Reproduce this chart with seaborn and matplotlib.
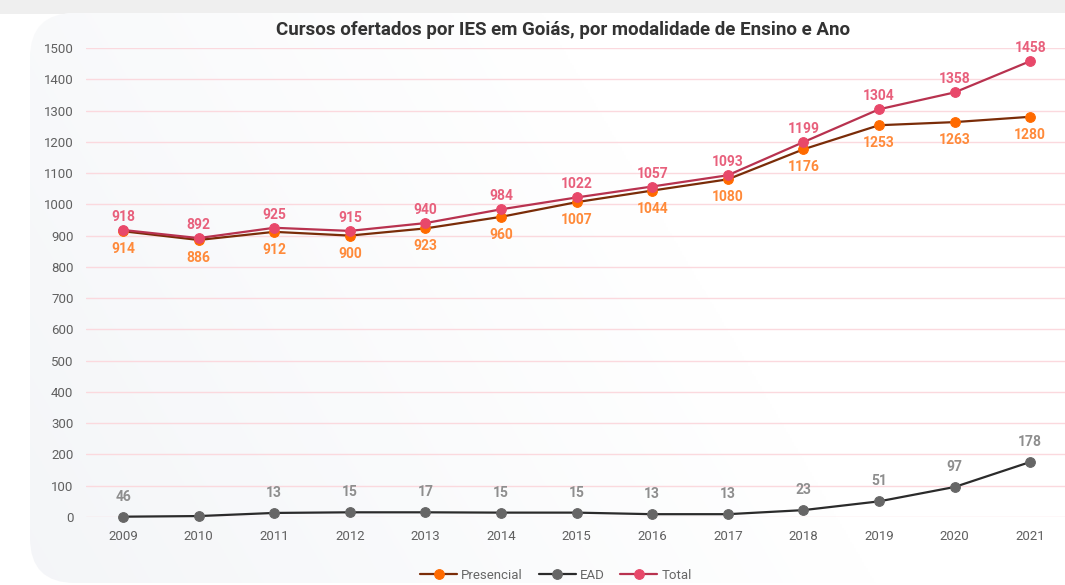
import numpy as np
import pandas as pd
import matplotlib
matplotlib.use("Agg")
import matplotlib.pyplot as plt
from matplotlib.patches import FancyBboxPatch, Rectangle
import seaborn as sns

# --- Data ---
anos = [2009, 2010, 2011, 2012, 2013, 2014, 2015, 2016, 2017, 2018, 2019, 2020, 2021]
presencial = [914, 886, 912, 900, 923, 960, 1007, 1044, 1080, 1176, 1253, 1263, 1280]
total = [918, 892, 925, 915, 940, 984, 1022, 1057, 1093, 1199, 1304, 1358, 1458]
# EAD points as drawn in the original, and the labels it prints
ead = [1, 3, 13, 15, 15, 14, 14, 9, 9, 22, 50, 96, 176]
ead_labels = ["46", "", "13", "15", "17", "15", "15", "13", "13", "23", "51", "97", "178"]

df = pd.DataFrame({"Ano": anos, "Presencial": presencial, "EAD": ead, "Total": total})

sns.set_theme(style="white")
plt.rcParams["font.family"] = ["Roboto", "DejaVu Sans"]

W, H = 1065, 585
fig = plt.figure(figsize=(W / 100, H / 100), dpi=100, facecolor="white")

# --- background card ---
bg = fig.add_axes([0, 0, 1, 1], zorder=-5)
bg.set_xlim(0, W)
bg.set_ylim(H, 0)
bg.axis("off")
bg.add_patch(Rectangle((0, 0), W, 14, facecolor="#efefef", edgecolor="none"))
card = FancyBboxPatch((30, 13), W + 60, H - 13 - 2, boxstyle="round,pad=0,rounding_size=45",
                      facecolor="white", edgecolor="none")
bg.add_patch(card)
yy, xx = np.mgrid[0:H:2, 0:W:2]
grad = np.clip(1 - (xx / 700.0) * 0.8 - ((H - yy) / 900.0) * 0.6, 0, 1)
c0 = np.array([0.955, 0.962, 0.972])
c1 = np.array([1.0, 1.0, 1.0])
img = c1 + (c0 - c1) * grad[..., None]
im = bg.imshow(img, extent=(0, W, H, 0), aspect="auto", zorder=1)
im.set_clip_path(card)

# --- chart ---
ax = fig.add_axes([86 / W, 1 - 517 / H, 1 - 86 / W, (517 - 48) / H])
ax.patch.set_alpha(0)

series = [
    ("Presencial", "#7a2c08", "#ff6a00"),
    ("EAD", "#2b2b2b", "#666666"),
    ("Total", "#b8324f", "#e8486a"),
]
for nome, cl, cm in series:
    sns.lineplot(data=df, x="Ano", y=nome, ax=ax, color=cl, linewidth=1.6, marker="o",
                 markersize=7, markerfacecolor=cm, markeredgecolor=cm, label=nome,
                 clip_on=False, zorder=3)

for x, v in zip(anos, total):
    ax.annotate(str(v), (x, v), xytext=(0, 6), textcoords="offset pixels", ha="center",
                va="bottom", fontsize=10, fontweight="bold", color="#e8607c")
for x, v in zip(anos, presencial):
    ax.annotate(str(v), (x, v), xytext=(0, -11), textcoords="offset pixels", ha="center",
                va="top", fontsize=10, fontweight="bold", color="#ff8a3a")
for x, v, lab in zip(anos, ead, ead_labels):
    ax.annotate(lab, (x, v), xytext=(0, 13), textcoords="offset pixels", ha="center",
                va="bottom", fontsize=10, fontweight="bold", color="#8e8e8e")

ax.set_xlim(2008.51, 2021.46)
ax.set_ylim(0, 1500)
ax.set_yticks(range(0, 1501, 100))
ax.set_xticks(anos)
ax.grid(axis="y", color="#fbd9de", linewidth=1)
ax.set_axisbelow(True)
for s in ax.spines.values():
    s.set_visible(False)
ax.tick_params(axis="both", length=0, labelsize=9.5, labelcolor="#606060")
ax.tick_params(axis="y", pad=9)
ax.tick_params(axis="x", pad=9)
ax.set_xlabel("")
ax.set_ylabel("")

ax.legend(loc="upper center", bbox_to_anchor=(0.48, -0.085), ncol=3, frameon=False,
          fontsize=9.5, labelcolor="#666666", handlelength=2.8, columnspacing=1.2,
          handletextpad=0.3)

fig.text(563 / W, 1 - 30 / H, "Cursos ofertados por IES em Goiás, por modalidade de Ensino e Ano",
         ha="center", va="center", fontsize=13.5, fontweight="bold", color="#333333")

fig.savefig("out.png", dpi=100, facecolor=fig.get_facecolor())
